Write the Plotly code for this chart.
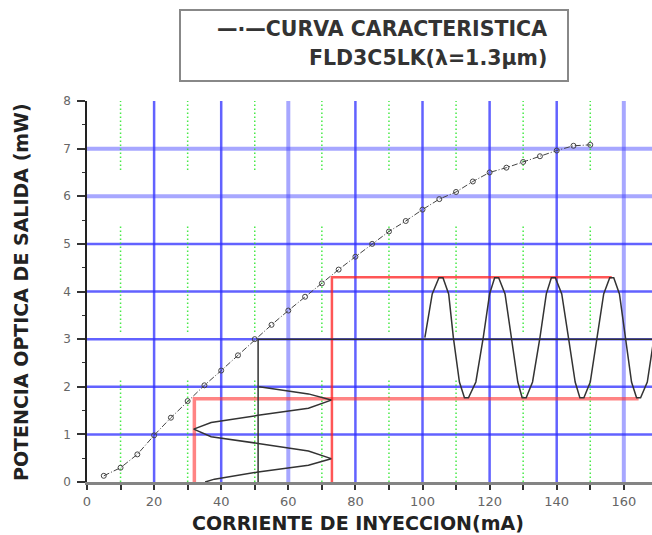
import plotly.graph_objects as go

# ---------------- data ----------------
current_ma = [5, 10, 15, 20, 25, 30, 35, 40, 45, 50, 55, 60, 65, 70, 75,
              80, 85, 90, 95, 100, 105, 110, 115, 120, 125, 130, 135, 140, 145, 150]
power_mw = [0.13, 0.30, 0.58, 0.98, 1.35, 1.70, 2.03, 2.34, 2.66, 3.00, 3.30, 3.60, 3.89, 4.17, 4.46,
            4.73, 5.00, 5.26, 5.48, 5.72, 5.94, 6.09, 6.31, 6.50, 6.60, 6.72, 6.84, 6.96, 7.06, 7.08]

x_tick_vals = [0, 20, 40, 60, 80, 100, 120, 140, 160]
y_tick_vals = [0, 1, 2, 3, 4, 5, 6, 7, 8]

grid_x_blue = [20, 40, 80, 100, 120, 140]
grid_x_blue_wide = [60, 160]
grid_y_blue = [1, 2, 3, 4, 5]
grid_y_blue_wide = [6, 7]
grid_x_green = [10, 30, 50, 70, 90, 110, 130, 150]
green_segments = [(0.0, 2.15), (3.15, 5.4), (6.55, 8.0)]

# operating point and swings
bias_current = 51
bias_power = 3.0
i_min, i_max = 32, 73
p_min, p_max = 1.75, 4.3
p_min_line_end = 164.4
p_max_line_end = 156.4
x_right = 168.4

# input current modulation (drawn vertically, y = "time")
in_wave_y = [2.00, 1.85, 1.72, 1.55, 1.40, 1.25, 1.11, 0.95, 0.81, 0.65, 0.49, 0.35, 0.21, 0.06, 0.00]
in_wave_x = [51.3, 66.0, 72.8, 66.0, 51.0, 37.0, 31.8, 37.0, 51.0, 66.0, 72.8, 66.0, 51.0, 38.0, 35.2]

# output power modulation (drawn horizontally, x = "time")
out_wave_x = [100.7, 102.9, 104.9, 106.1, 107.8, 109.2, 111.0, 112.5, 113.7, 115.9, 118.1,
              120.0, 121.5, 122.7, 124.6, 126.6, 128.4, 129.7, 130.9, 132.8, 135.0,
              136.9, 138.4, 139.6, 141.5, 143.5, 145.5, 146.9, 148.1, 150.0, 151.9,
              154.0, 155.8, 157.0, 158.7, 160.4, 162.3, 163.8, 165.0, 167.0, 169.0]
out_wave_y = [3.03, 3.95, 4.29, 4.29, 3.95, 3.03, 2.10, 1.77, 1.77, 2.10, 3.03,
              3.95, 4.29, 4.29, 3.95, 3.03, 2.10, 1.77, 1.77, 2.10, 3.03,
              3.95, 4.29, 4.29, 3.95, 3.03, 2.10, 1.77, 1.77, 2.10, 3.03,
              3.95, 4.29, 4.29, 3.95, 3.03, 2.10, 1.77, 1.77, 2.10, 3.03]

legend_line1 = "—·—CURVA CARACTERISTICA"
legend_line2 = "FLD3C5LK(λ=1.3μm)"
x_title = "CORRIENTE DE INYECCION(mA)"
y_title = "POTENCIA OPTICA DE SALIDA (mW)"

Y_MAX = 8
X_MAX = x_right


def vlines(xs, y0, y1):
    X, Y = [], []
    for v in xs:
        X += [v, v, None]
        Y += [y0, y1, None]
    return X, Y


def hlines(ys, x0, x1):
    X, Y = [], []
    for v in ys:
        X += [x0, x1, None]
        Y += [v, v, None]
    return X, Y


fig = go.Figure()

# blue grid
for xs, w, c in [(grid_x_blue, 2.5, "rgba(45,45,255,0.75)"),
                 (grid_x_blue_wide, 4, "rgba(60,60,255,0.45)")]:
    X, Y = vlines(xs, 0, Y_MAX)
    fig.add_trace(go.Scatter(x=X, y=Y, mode="lines", line=dict(color=c, width=w),
                             hoverinfo="skip", showlegend=False))
for ys, w, c in [(grid_y_blue, 2.5, "rgba(45,45,255,0.75)"),
                 (grid_y_blue_wide, 4, "rgba(60,60,255,0.45)")]:
    X, Y = hlines(ys, 0, 200)
    fig.add_trace(go.Scatter(x=X, y=Y, mode="lines", line=dict(color=c, width=w),
                             hoverinfo="skip", showlegend=False))

# green dotted grid
GX, GY = [], []
for v in grid_x_green:
    for (a, b) in green_segments:
        GX += [v, v, None]
        GY += [a, b, None]
fig.add_trace(go.Scatter(x=GX, y=GY, mode="lines",
                         line=dict(color="rgba(40,230,40,0.85)", width=1.5, dash="1.5px,2.5px"),
                         hoverinfo="skip", showlegend=False))

# red swing guide lines
fig.add_trace(go.Scatter(x=[i_min, i_min, p_min_line_end], y=[0, p_min, p_min], mode="lines",
                         line=dict(color="rgba(255,50,50,0.6)", width=3.5),
                         hoverinfo="skip", showlegend=False))
fig.add_trace(go.Scatter(x=[i_max, i_max, p_max_line_end], y=[0, p_max, p_max], mode="lines",
                         line=dict(color="rgba(255,30,30,0.75)", width=2.5),
                         hoverinfo="skip", showlegend=False))

# black bias lines
fig.add_trace(go.Scatter(x=[bias_current, bias_current, 200], y=[0, bias_power, bias_power],
                         mode="lines", line=dict(color="#333333", width=1.5),
                         hoverinfo="skip", showlegend=False))

# modulation waves
fig.add_trace(go.Scatter(x=in_wave_x, y=in_wave_y, mode="lines",
                         line=dict(color="#333333", width=1.5), showlegend=False))
fig.add_trace(go.Scatter(x=out_wave_x, y=out_wave_y, mode="lines",
                         line=dict(color="#333333", width=1.5), showlegend=False))

# characteristic curve
fig.add_trace(go.Scatter(x=current_ma, y=power_mw, mode="lines+markers",
                         line=dict(color="#444444", width=1, dash="6px,2px,1px,2px"),
                         marker=dict(symbol="circle-open", size=5, color="#444444",
                                     line=dict(width=1, color="#444444")),
                         name="CURVA CARACTERISTICA", showlegend=False))

# layout geometry (px)
W, H = 652, 535
ML, MR, MT, MB = 87, 0, 101, 53
PW = W - ML - MR
PH = H - MT - MB


def px2paper_x(px):
    return (px - ML) / PW


def px2paper_y(py):
    return (H - MB - py) / PH


fig.update_layout(
    width=W, height=H,
    margin=dict(l=ML, r=MR, t=MT, b=MB, pad=0),
    plot_bgcolor="white", paper_bgcolor="white",
    showlegend=False,
    xaxis=dict(range=[0, X_MAX], tickvals=x_tick_vals, showgrid=False, zeroline=False,
               showline=True, linecolor="rgba(110,110,110,0.85)", linewidth=3,
               ticks="outside", ticklen=5, tickwidth=1.5, tickcolor="#333333",
               minor=dict(dtick=10, tick0=0, ticks="outside", ticklen=5, tickwidth=1.5,
                          tickcolor="#333333", showgrid=False),
               tickfont=dict(family="DejaVu Sans", size=13, color="#666666")),
    yaxis=dict(range=[0, Y_MAX], tickvals=y_tick_vals, showgrid=False, zeroline=False,
               showline=True, linecolor="#222222", linewidth=1.5,
               ticks="outside", ticklen=8, tickwidth=1.5, tickcolor="#333333",
               minor=dict(dtick=0.5, tick0=0, ticks="outside", ticklen=3, tickwidth=1,
                          tickcolor="#333333", showgrid=False),
               tickfont=dict(family="DejaVu Sans", size=12, color="#666666"),
               ticklabelstandoff=4),
)

# legend box and text
fig.add_shape(type="rect", xref="paper", yref="paper",
              x0=px2paper_x(180), x1=px2paper_x(568),
              y0=px2paper_y(81), y1=px2paper_y(10),
              line=dict(color="#888888", width=2), fillcolor="white")
fig.add_annotation(xref="paper", yref="paper", x=px2paper_x(549), y=px2paper_y(29),
                   xanchor="right", yanchor="middle", showarrow=False, text=legend_line1,
                   font=dict(family="DejaVu Sans", size=20.5, color="#333333", weight="bold"))
fig.add_annotation(xref="paper", yref="paper", x=px2paper_x(549), y=px2paper_y(58),
                   xanchor="right", yanchor="middle", showarrow=False, text=legend_line2,
                   font=dict(family="DejaVu Sans", size=20.5, color="#333333", weight="bold"))

# axis titles
fig.add_annotation(xref="paper", yref="paper", x=px2paper_x(358), y=px2paper_y(523),
                   xanchor="center", yanchor="middle", showarrow=False, text=x_title,
                   font=dict(family="DejaVu Sans", size=19, color="#222222", weight="bold"))
fig.add_annotation(xref="paper", yref="paper", x=px2paper_x(21), y=px2paper_y(292),
                   xanchor="center", yanchor="middle", showarrow=False, text=y_title,
                   textangle=-90,
                   font=dict(family="DejaVu Sans", size=19, color="#222222", weight="bold"))

fig.write_html("out.html",
               config={"displayModeBar": False},
               post_script="document.body.style.margin='0px';document.body.style.overflow='hidden';")
